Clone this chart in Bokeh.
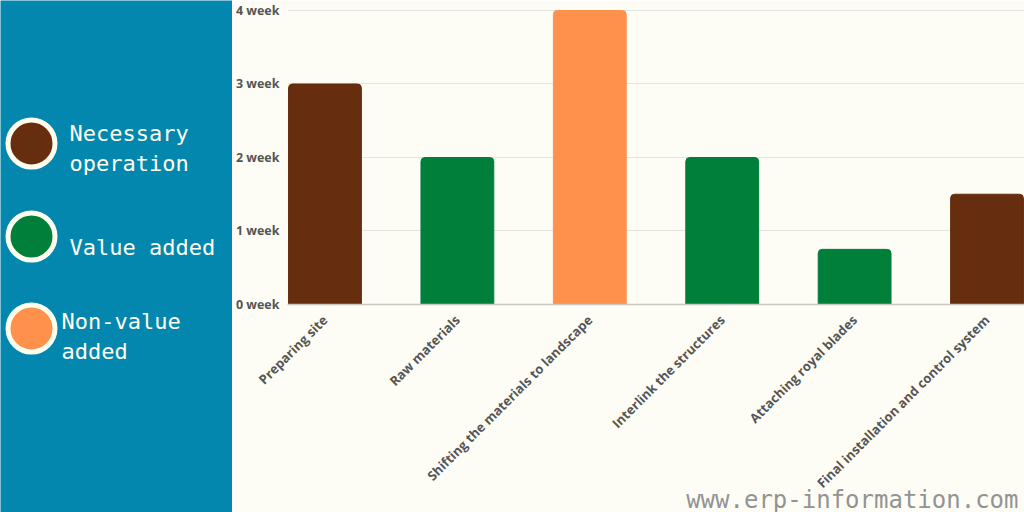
import math
from bokeh.plotting import figure
from bokeh.layouts import row
from bokeh.models import Range1d, FixedTicker, ColumnDataSource, Title
from bokeh.core.properties import value
from bokeh.embed import file_html
from bokeh.resources import INLINE

# ---- data ----
tasks = ["Preparing site", "Raw materials", "Shifting the materials to landscape",
         "Interlink the structures", "Attaching royal blades", "Final installation and control system"]
weeks = [3, 2, 4, 2, 0.75, 1.5]
task_type = ["Necessary operation", "Value added", "Non-value added",
             "Value added", "Value added", "Necessary operation"]
type_names = ["Necessary operation", "Value added", "Non-value added"]
type_colors = {"Necessary operation": "#662D0E", "Value added": "#007F3A", "Non-value added": "#FF914D"}
legend_lines = [["Necessary", "operation"], ["Value added"], ["Non-value", "added"]]
y_ticks = [0, 1, 2, 3, 4]
watermark = "www.erp-information.com"

BLUE = "#0387AE"
CREAM = "#FDFDF6"

# ---- left legend panel ----
lp = figure(width=232, height=512, output_backend="svg", toolbar_location=None,
            x_range=Range1d(0, 232), y_range=Range1d(512, 0),
            min_border=0, min_border_left=0, min_border_right=0,
            min_border_top=0, min_border_bottom=0)
lp.frame_align = False
lp.axis.visible = False
lp.grid.visible = False
lp.outline_line_color = None
lp.background_fill_color = BLUE
lp.border_fill_color = BLUE

circle_y = [143, 236, 328]
text_x = [69, 69, 61]
first_baseline = [133, 247, 321]
line_gap = 30
lp.scatter(x=[31] * 3, y=circle_y, size=47, marker="circle",
           fill_color=[type_colors[t] for t in type_names],
           line_color="#FFFDF0", line_width=5)
tx, ty, tt = [], [], []
for i, lines in enumerate(legend_lines):
    for j, ln in enumerate(lines):
        tx.append(text_x[i])
        ty.append(first_baseline[i] + j * line_gap)
        tt.append(ln)
lp.text(x=tx, y=ty, text=tt, text_font=value("DejaVu Sans Mono"), text_font_size="22px",
        text_baseline="alphabetic", text_align="left", text_color="#FFFDF0")

# ---- right chart ----
xs = list(range(len(tasks)))
p = figure(width=792, height=512, output_backend="svg", toolbar_location=None,
           x_range=Range1d(-0.283, 5.283), y_range=Range1d(0, 4.027),
           min_border_left=54, min_border_right=0, min_border_top=8, min_border_bottom=208)
p.frame_align = False
p.background_fill_color = CREAM
p.border_fill_color = CREAM
p.outline_line_color = None

src = ColumnDataSource(dict(x=xs, top=weeks, color=[type_colors[t] for t in task_type]))
p.vbar(x="x", top="top", width=0.55, fill_color="color", line_color="color",
       source=src, border_radius=(4, 4, 0, 0))

p.xgrid.visible = False
p.ygrid.grid_line_color = "#E4E4E0"
p.ygrid.ticker = FixedTicker(ticks=y_ticks)

p.yaxis.ticker = FixedTicker(ticks=y_ticks)
p.yaxis.major_label_overrides = {t: f"{t} week" for t in y_ticks}
p.yaxis.axis_line_color = None
p.yaxis.major_tick_line_color = None
p.yaxis.minor_tick_line_color = None
p.yaxis.major_tick_out = 0
p.yaxis.major_tick_in = 0
p.yaxis.minor_tick_out = 0
p.yaxis.major_label_standoff = 8
p.yaxis.major_label_text_font = "Open Sans"
p.yaxis.major_label_text_font_style = "bold"
p.yaxis.major_label_text_font_size = "12.5px"
p.yaxis.major_label_text_color = "#555555"

p.xaxis.ticker = FixedTicker(ticks=xs)
p.xaxis.major_label_overrides = {i: t for i, t in enumerate(tasks)}
p.xaxis.major_label_orientation = math.pi / 4
p.xaxis.axis_line_color = "#C8C8C4"
p.xaxis.axis_line_width = 1.5
p.xaxis.major_tick_line_color = None
p.xaxis.minor_tick_line_color = None
p.xaxis.major_tick_out = 0
p.xaxis.major_tick_in = 0
p.xaxis.minor_tick_out = 0
p.xaxis.major_label_standoff = 13
p.xaxis.major_label_text_font = "Open Sans"
p.xaxis.major_label_text_font_style = "bold"
p.xaxis.major_label_text_font_size = "13px"
p.xaxis.major_label_text_color = "#555555"

p.add_layout(Title(text=watermark, align="right", vertical_align="top",
                   text_font="DejaVu Sans Mono",
                   text_font_size="24px", text_font_style="normal",
                   text_color="#939393", offset=6, standoff=-32), "below")

layout = row(lp, p)
open("out.html", "w").write(file_html(layout, INLINE))
